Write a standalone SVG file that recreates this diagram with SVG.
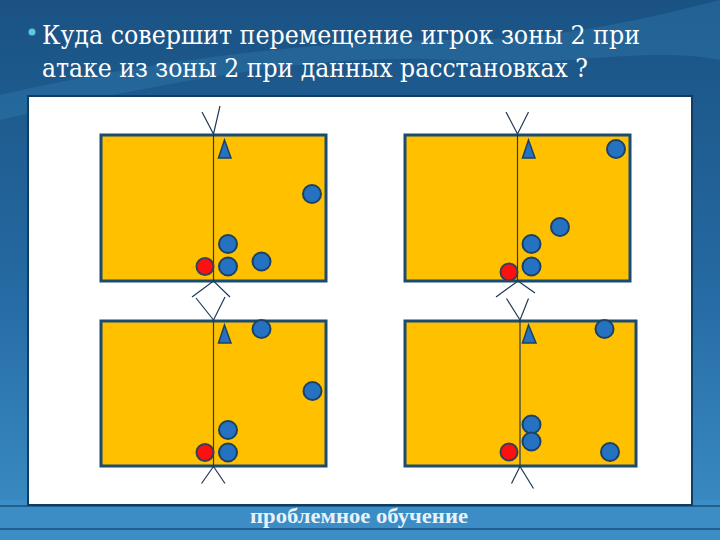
<svg xmlns="http://www.w3.org/2000/svg" width="720" height="540" viewBox="0 0 720 540">
<defs>
<linearGradient id="bg" x1="0" y1="0" x2="0" y2="1">
<stop offset="0" stop-color="#1A5283"/>
<stop offset="0.5" stop-color="#2468A0"/>
<stop offset="1" stop-color="#3C8EC6"/>
</linearGradient>
<style>
.court{fill:#FFC000;stroke:#1A4B73;stroke-width:3}
.net{stroke:#1F3A55;stroke-width:1.2;fill:none}
.p{fill:#2672C2;stroke:#1D4163;stroke-width:2}
.r{fill:#FF1010;stroke:#3A3F55;stroke-width:2}
.tri{fill:#2672C2;stroke:#1D4163;stroke-width:1.5}
</style>
</defs>
<rect x="0" y="0" width="720" height="540" fill="url(#bg)"/>
<path d="M0,95 C150,60 320,40 450,40 C560,40 640,20 720,0 L720,60 C640,45 560,70 450,60 C330,52 170,80 0,120 Z" fill="#3C8FC2" opacity="0.25"/>
<path d="M0,500 L720,500 L720,540 L0,540 Z" fill="#3C8DC5"/>
<line x1="0" y1="506" x2="720" y2="506" stroke="#1C4F78" stroke-width="1.5"/>
<line x1="0" y1="529" x2="720" y2="529" stroke="#1C4F78" stroke-width="1.5"/>

<g id="title" font-family="'DejaVu Serif', 'Liberation Serif', serif" font-size="26" fill="#FFFFFF">
<circle cx="32" cy="32" r="3.5" fill="#5CC9DD"/>
<text x="42" y="44" textLength="598" lengthAdjust="spacingAndGlyphs">Куда совершит перемещение игрок зоны 2 при</text>
<text x="42" y="77" textLength="546" lengthAdjust="spacingAndGlyphs">атаке из зоны 2 при данных расстановках ?</text>
</g>

<rect id="panel" x="28" y="96" width="664" height="409" fill="#FFFFFF" stroke="#0F3E63" stroke-width="2"/>

<g id="court1">
<rect class="court" x="101" y="135" width="225" height="146"/>
<line class="net" x1="213.5" y1="135" x2="213.5" y2="281"/>
<polyline class="net" points="202,112 213.5,134 220,106"/>
<polygon class="tri" points="224.5,140 218.5,158 231,158"/>
<circle class="p" cx="312" cy="194" r="9"/>
<circle class="p" cx="228" cy="244" r="9"/>
<circle class="p" cx="228" cy="266.5" r="9"/>
<circle class="p" cx="261.5" cy="261.5" r="9"/>
<circle class="r" cx="205" cy="266.5" r="8.5"/>
</g>

<g id="court2">
<rect class="court" x="405" y="135" width="225" height="146"/>
<line class="net" x1="517.5" y1="135" x2="517.5" y2="281"/>
<polyline class="net" points="506,112 517.5,134 528.5,112"/>
<polygon class="tri" points="528.5,140 522.5,158 535,158"/>
<circle class="p" cx="616" cy="149" r="9"/>
<circle class="p" cx="560" cy="227" r="9"/>
<circle class="p" cx="531.5" cy="244" r="9"/>
<circle class="p" cx="531.5" cy="266.5" r="9"/>
<circle class="r" cx="509" cy="272" r="8.5"/>
</g>

<g id="court3">
<rect class="court" x="101" y="321" width="225" height="145"/>
<line class="net" x1="213.5" y1="321" x2="213.5" y2="466"/>
<polygon class="tri" points="224.5,325 218.5,343 231,343"/>
<circle class="p" cx="261.5" cy="329" r="9"/>
<circle class="p" cx="312.5" cy="391" r="9"/>
<circle class="p" cx="228" cy="430" r="9"/>
<circle class="p" cx="228" cy="452.5" r="9"/>
<circle class="r" cx="205" cy="452.5" r="8.5"/>
</g>

<g id="court4">
<rect class="court" x="405" y="321" width="231" height="145"/>
<line class="net" x1="520" y1="321" x2="520" y2="466"/>
<polygon class="tri" points="528.5,325 522.5,343 536,343"/>
<circle class="p" cx="604.5" cy="329" r="9"/>
<circle class="p" cx="531.5" cy="424.5" r="9"/>
<circle class="p" cx="531.5" cy="441.5" r="9"/>
<circle class="p" cx="610" cy="452" r="9"/>
<circle class="r" cx="509" cy="452" r="8.5"/>
</g>

<g id="connectors">
<polyline class="net" points="192,297 213.5,281 230,297"/>
<polyline class="net" points="196,298 213.5,320 225,297"/>
<polyline class="net" points="201.5,483.5 213.5,466.5 225,483.5"/>
<polyline class="net" points="496,297 518,281 535,293"/>
<polyline class="net" points="506.5,298.5 520,320 528.5,298.5"/>
<polyline class="net" points="511.5,483.5 520,466.5 533.5,488.5"/>
</g>

<text x="250" y="523" font-family="'Liberation Serif', serif" font-size="20" font-weight="bold" fill="#E8F2FA" textLength="218" lengthAdjust="spacingAndGlyphs">проблемное обучение</text>
</svg>
